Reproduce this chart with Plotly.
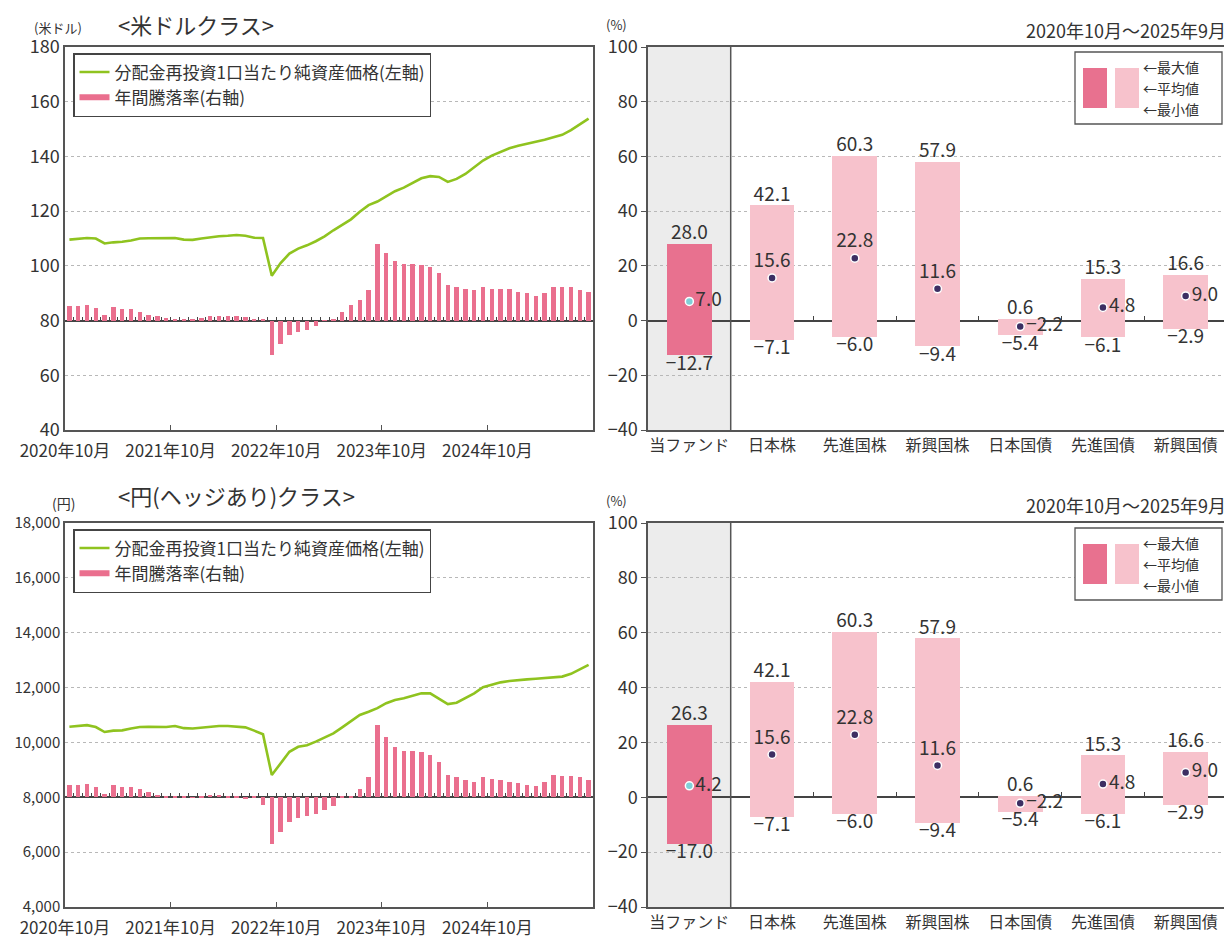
import plotly.graph_objects as go

# ---------------- data ----------------
x_tick_labels = ["2020年10月", "2021年10月", "2022年10月", "2023年10月", "2024年10月"]
x_tick_months = [0, 12, 24, 36, 48]
n_months = 60

usd_nav = [109.6, 109.8, 110.2, 110.0, 108.2, 108.6, 108.8, 109.3, 110.0, 110.1,
           110.2, 110.3, 110.2, 109.6, 109.5, 110.0, 110.5, 110.8, 111.0, 111.3,
           111.0, 110.3, 110.2, 96.4, 101.0, 104.5, 106.3, 107.5, 109.0, 110.8,
           113.0, 115.0, 117.0, 119.8, 122.2, 123.5, 125.5, 127.3, 128.6, 130.3,
           132.0, 132.8, 132.5, 130.7, 131.8, 133.6, 136.0, 138.5, 140.3, 141.7,
           143.0, 143.9, 144.6, 145.3, 146.1, 147.0, 147.9, 149.6, 151.6, 153.8]
usd_ret = [5.4, 5.4, 5.7, 4.5, 2.1, 5.1, 4.1, 4.1, 3.3, 2.1,
           1.5, 0.9, 0.5, 0.3, 0.3, 1.0, 1.5, 1.8, 1.8, 1.8,
           1.2, 0.5, 0.3, -12.7, -8.5, -5.1, -4.0, -3.6, -1.8, 0.2,
           0.3, 3.0, 5.8, 7.6, 11.3, 28.0, 24.6, 21.6, 20.6, 20.6,
           20.2, 19.7, 17.3, 13.0, 12.4, 11.4, 11.0, 12.2, 11.4, 11.4,
           11.4, 10.5, 10.0, 9.0, 10.0, 12.2, 12.2, 12.2, 11.2, 10.5]
jpy_nav = [10570, 10600, 10630, 10560, 10380, 10430, 10440, 10510, 10560, 10570,
           10570, 10560, 10600, 10520, 10510, 10540, 10570, 10600, 10600, 10580,
           10550, 10430, 10300, 8810, 9230, 9660, 9840, 9900, 10030, 10180,
           10330, 10550, 10760, 11000, 11120, 11250, 11430, 11550, 11610, 11700,
           11790, 11790, 11610, 11400, 11450, 11610, 11790, 12010, 12100, 12190,
           12240, 12280, 12300, 12320, 12350, 12380, 12400, 12500, 12670, 12830]
jpy_ret = [4.3, 4.6, 4.9, 3.7, 1.2, 4.3, 3.7, 3.9, 3.0, 1.8,
           1.0, 0.6, 0.3, 0.2, -0.2, 0.5, 0.8, 0.8, 0.6, 0.3,
           -0.6, 0.2, -2.7, -17.0, -12.7, -9.1, -7.5, -7.0, -6.1, -4.6,
           -3.0, 0.3, 0.6, 3.0, 7.3, 26.3, 21.8, 18.2, 16.7, 16.7,
           16.4, 15.5, 12.7, 8.2, 7.3, 6.3, 5.5, 7.5, 6.7, 6.3,
           5.5, 5.1, 4.6, 4.2, 5.5, 8.1, 7.9, 7.9, 7.3, 6.3]

categories = ["当ファンド", "日本株", "先進国株", "新興国株", "日本国債", "先進国債", "新興国債"]
usd_max = [28.0, 42.1, 60.3, 57.9, 0.6, 15.3, 16.6]
usd_avg = [7.0, 15.6, 22.8, 11.6, -2.2, 4.8, 9.0]
usd_min = [-12.7, -7.1, -6.0, -9.4, -5.4, -6.1, -2.9]
jpy_max = [26.3, 42.1, 60.3, 57.9, 0.6, 15.3, 16.6]
jpy_avg = [4.2, 15.6, 22.8, 11.6, -2.2, 4.8, 9.0]
jpy_min = [-17.0, -7.1, -6.0, -9.4, -5.4, -6.1, -2.9]

name_nav = "分配金再投資1口当たり純資産価格(左軸)"
name_ret = "年間騰落率(右軸)"
period_text = "2020年10月～2025年9月"
legend_labels = ["最大値", "平均値", "最小値"]

# ---------------- style ----------------
OFF = 8                      # page body margin of the html page
W, H = 1232 - OFF, 939 - OFF
FONT = "Noto Sans CJK JP"
TXT = "#333333"
FRAME = "#555555"
GRID = "#b8b8b8"
GREEN = "#8fc31f"
PINK = "#ea6f8e"
FUND_PINK = "#e8718f"
LIGHT_PINK = "#f7c2cc"
GRAY_BG = "#ececec"
label_pos = ["middle right", "top center", "top center", "top center",
             "middle right", "middle right", "middle right"]
VAL_SIZE = 19


def px(p):
    return (p - OFF) / W


def py(p):
    return 1 - (p - OFF) / H


def fmt(v):
    return f"{v:.1f}".replace("-", "−")


panels = {
    "top": dict(left=(65, 593), right=(648, 1227), y=(47, 430)),
    "bot": dict(left=(65, 593), right=(648, 1227), y=(523, 907)),
}

fig = go.Figure()
months_center = [i + 0.5 for i in range(n_months)]
cat_idx = list(range(len(categories)))
ncat = len(categories)

configs = [
    ("top", usd_nav, usd_ret, usd_max, usd_avg, usd_min, [40, 180], None, 1, "legend"),
    ("bot", jpy_nav, jpy_ret, jpy_max, jpy_avg, jpy_min, [4000, 18000], ",", 2, "legend2"),
]

layout = {}
shapes = []
annotations = []


def lname(a):
    return a[0] + "axis" + a[1:]


for (pn, nav, ret, vmax, vavg, vmin, lrange, tfmt, k, lg) in configs:
    p = panels[pn]
    ydom = [py(p["y"][1]), py(p["y"][0])]
    if k == 1:
        xl, yl, yb, xr, yr, xz, xc = "x", "y", "y2", "x2", "y3", "x5", "x7"
    else:
        xl, yl, yb, xr, yr, xz, xc = "x3", "y4", "y5", "x4", "y6", "x6", "x8"
    zero_frac = (0 - (-40)) / 140
    zero_pos = ydom[0] + zero_frac * (ydom[1] - ydom[0])

    # left chart: bars (right axis) + line (left axis)
    fig.add_trace(go.Bar(x=months_center, y=ret, width=0.48, marker=dict(color=PINK, line=dict(width=0)),
                         name=name_ret, xaxis=xl, yaxis=yb, showlegend=False))
    fig.add_trace(go.Scatter(x=months_center, y=nav, mode="lines", line=dict(color=GREEN, width=2.6),
                             name=name_nav, xaxis=xl, yaxis=yl, legend=lg, legendrank=1))
    fig.add_trace(go.Scatter(x=[None], y=[None], mode="lines", line=dict(color=PINK, width=6),
                             name=name_ret, xaxis=xl, yaxis=yb, legend=lg, legendrank=2))
    fig.add_trace(go.Scatter(x=[None], y=[None], xaxis=xz, yaxis=yb, showlegend=False, hoverinfo="skip"))

    layout[lname(xl)] = dict(domain=[px(p["left"][0]), px(p["left"][1])], range=[0, n_months],
                             anchor=yl, tickvals=x_tick_months, ticktext=x_tick_labels,
                             ticks="inside", ticklen=5, tickcolor=FRAME, showgrid=False, zeroline=False,
                             showline=True, linecolor=FRAME, linewidth=1.5, mirror=True, automargin=False,
                             ticklabelstandoff=5,
                             tickfont=dict(size=17, color=TXT, family=FONT))
    layout[lname(yl)] = dict(domain=ydom, range=lrange, dtick=(lrange[1] - lrange[0]) / 7,
                             anchor=xl, tickformat=tfmt, ticks="", showgrid=True, gridcolor=GRID,
                             griddash="dot", gridwidth=1, zeroline=False, automargin=False,
                             showline=True, linecolor=FRAME, linewidth=1.5, mirror=True,
                             tickfont=dict(size=18 if k == 1 else 15, color=TXT, family=FONT))
    layout[lname(yb)] = dict(range=[-40, 100], overlaying=yl, side="right", anchor=xl,
                             showticklabels=False, ticks="", showgrid=False, zeroline=True, automargin=False,
                             zerolinecolor="#444444", zerolinewidth=1.6, showline=False)
    layout[lname(xz)] = dict(overlaying=xl, anchor="free", position=zero_pos, automargin=False,
                             range=[0, n_months], tickvals=list(range(1, n_months)),
                             ticks="inside", ticklen=4, tickcolor="#444444", tickwidth=1,
                             showticklabels=False, showgrid=False, zeroline=False, showline=False)

    # right chart: range bars
    colors = [FUND_PINK] + [LIGHT_PINK] * (ncat - 1)
    mcolors = ["#7fd0d8"] + ["#3d2f63"] * (ncat - 1)
    fig.add_trace(go.Bar(x=cat_idx, y=[a - b for a, b in zip(vmax, vmin)], base=vmin, width=0.54,
                         marker=dict(color=colors, line=dict(width=0)), showlegend=False,
                         xaxis=xr, yaxis=yr, hoverinfo="skip"))
    fig.add_trace(go.Scatter(x=cat_idx, y=vavg, mode="markers+text",
                             marker=dict(color=mcolors, size=8, line=dict(color="white", width=1.5)),
                             text=[fmt(v) for v in vavg], textposition=label_pos,
                             textfont=dict(size=VAL_SIZE, color=TXT, family=FONT),
                             showlegend=False, xaxis=xr, yaxis=yr, cliponaxis=False))
    fig.add_trace(go.Scatter(x=cat_idx, y=vmax, mode="text",
                             text=[fmt(v) for v in vmax], textposition="top center",
                             textfont=dict(size=VAL_SIZE, color=TXT, family=FONT),
                             showlegend=False, xaxis=xr, yaxis=yr, cliponaxis=False))
    fig.add_trace(go.Scatter(x=cat_idx, y=vmin, mode="text",
                             text=[fmt(v) for v in vmin], textposition="bottom center",
                             textfont=dict(size=VAL_SIZE, color=TXT, family=FONT),
                             showlegend=False, xaxis=xr, yaxis=yr, cliponaxis=False))
    fig.add_trace(go.Scatter(x=[None], y=[None], xaxis=xc, yaxis=yr, showlegend=False, hoverinfo="skip"))

    layout[lname(xr)] = dict(domain=[px(p["right"][0]), px(p["right"][1])], range=[-0.5, ncat - 0.5],
                             anchor=yr, tickvals=cat_idx, ticktext=categories, ticks="", automargin=False,
                             showgrid=False, zeroline=False, showline=True, linecolor=FRAME,
                             linewidth=1.5, mirror=True, tickfont=dict(size=16, color=TXT, family=FONT))
    layout[lname(yr)] = dict(domain=ydom, range=[-40, 100], dtick=20, anchor=xr, automargin=False,
                             ticks="outside", ticklen=5, tickcolor=FRAME, showgrid=True, gridcolor=GRID,
                             griddash="dot", zeroline=True, zerolinecolor="#444444", zerolinewidth=1.6,
                             showline=True, linecolor=FRAME, linewidth=1.5, mirror=True,
                             tickfont=dict(size=18, color=TXT, family=FONT))
    layout[lname(xc)] = dict(overlaying=xr, anchor="free", position=zero_pos, automargin=False,
                             range=[-0.5, ncat - 0.5], tickvals=[i + 0.5 for i in range(1, ncat - 1)],
                             ticks="inside", ticklen=5, tickcolor="#444444", tickwidth=1.2,
                             showticklabels=False, showgrid=False, zeroline=False, showline=False)

    # fund column background and separator
    shapes.append(dict(type="rect", xref=xr, yref=yr + " domain", x0=-0.5, x1=0.5, y0=0, y1=1,
                       fillcolor=GRAY_BG, line=dict(width=0), layer="below"))
    shapes.append(dict(type="line", xref=xr, yref=yr + " domain", x0=0.5, x1=0.5, y0=0, y1=1,
                       line=dict(color=FRAME, width=1.5), layer="above"))

    # legend for the right chart (box, swatches, texts)
    top = p["y"][0]
    bx0, bx1, by0, by1 = 1075, 1222, top + 5, top + 77
    shapes.append(dict(type="rect", xref="paper", yref="paper", x0=px(bx0), x1=px(bx1),
                       y0=py(by1), y1=py(by0), line=dict(color=FRAME, width=1.3), fillcolor="white"))
    for (sx0, sx1, col) in [(1083, 1107, FUND_PINK), (1115, 1139, LIGHT_PINK)]:
        shapes.append(dict(type="rect", xref="paper", yref="paper", x0=px(sx0), x1=px(sx1),
                           y0=py(top + 61), y1=py(top + 21), line=dict(width=0), fillcolor=col))
    fig.add_trace(go.Scatter(x=[px(1095), px(1127)], y=[py(top + 41)] * 2, mode="markers",
                             xaxis="x9", yaxis="y9", showlegend=False, hoverinfo="skip",
                             marker=dict(color=mcolors[:2], size=8, line=dict(color="white", width=1.5))))
    for j, t in enumerate(legend_labels):
        annotations.append(dict(x=px(1142), y=py(top + 20 + 21 * j),
                                text="←" + t, xanchor="left", yanchor="middle", borderpad=0,
                                font=dict(size=14, color=TXT, family=FONT)))

    # legend of left chart
    layout[lg] = dict(x=px(73), y=py(p["y"][0] + 6), xanchor="left", yanchor="top",
                      bgcolor="white", bordercolor="#444444", borderwidth=1.5,
                      font=dict(size=17, color=TXT, family=FONT), tracegroupgap=0,
                      itemwidth=30, traceorder="normal")

layout["xaxis9"] = dict(domain=[0, 1], range=[0, 1], visible=False, anchor="y9", automargin=False)
layout["yaxis9"] = dict(domain=[0, 1], range=[0, 1], visible=False, anchor="x9", automargin=False)

# texts above the panels
annotations += [
    dict(x=px(116), y=py(24), text="<米ドルクラス>", xanchor="left", yanchor="middle",
         font=dict(size=22, color=TXT, family=FONT)),
    dict(x=px(32), y=py(27), text="(米ドル)", xanchor="left", yanchor="middle",
         font=dict(size=13, color=TXT, family=FONT)),
    dict(x=px(604), y=py(25), text="(%)", xanchor="left", yanchor="middle",
         font=dict(size=13, color=TXT, family=FONT)),
    dict(x=px(1228), y=py(30), text=period_text, xanchor="right", yanchor="middle",
         font=dict(size=18, color=TXT, family=FONT)),
    dict(x=px(116), y=py(495), text="<円(ヘッジあり)クラス>", xanchor="left", yanchor="middle",
         font=dict(size=22, color=TXT, family=FONT)),
    dict(x=px(50), y=py(503), text="(円)", xanchor="left", yanchor="middle",
         font=dict(size=14, color=TXT, family=FONT)),
    dict(x=px(604), y=py(501), text="(%)", xanchor="left", yanchor="middle",
         font=dict(size=13, color=TXT, family=FONT)),
    dict(x=px(1228), y=py(505), text=period_text, xanchor="right", yanchor="middle",
         font=dict(size=18, color=TXT, family=FONT)),
]
for a in annotations:
    a["xref"] = "paper"
    a["yref"] = "paper"
    a["showarrow"] = False

fig.update_layout(template="none", width=W, height=H, margin=dict(l=0, r=0, t=0, b=0, autoexpand=False),
                  plot_bgcolor="rgba(0,0,0,0)", paper_bgcolor="white",
                  font=dict(family=FONT, color=TXT), bargap=0, barmode="overlay",
                  shapes=shapes, annotations=annotations, **layout)
fig.write_html("out.html")
